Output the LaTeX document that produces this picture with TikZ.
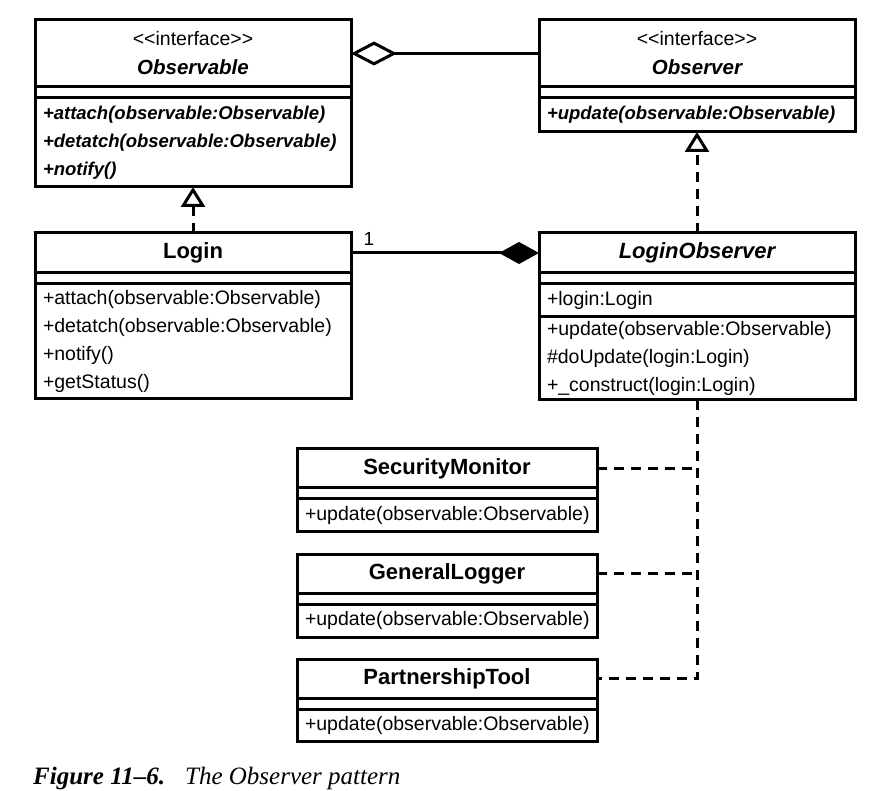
\documentclass[tikz,border=0pt]{standalone}
\usepackage{fontspec}
\setmainfont{Liberation Serif}
\newfontfamily\umlfont{Liberation Sans}[Ligatures=TeXOff]
\usetikzlibrary{arrows.meta, positioning}

\begin{document}
\begin{tikzpicture}[x=1pt, y=-1pt,
        part/.style={rectangle, draw, line width=3pt, outer sep=0pt, inner xsep=8pt, inner ysep=0pt},
        head/.style={part, align=center, font=\umlfont\bfseries\fontsize{22}{26}\selectfont},
        iface/.style={part, align=center, minimum height=67pt, font=\umlfont\fontsize{19.5}{29}\selectfont},
        gap/.style={part, minimum height=11pt},
        ops/.style={part, align=left, font=\umlfont\fontsize{19.5}{28}\selectfont},
        abstract/.style={ops, font=\umlfont\bfseries\itshape\fontsize{18.5}{28}\selectfont},
        wide/.style={text width=300pt},
        narrow/.style={text width=284pt},
        line/.style={draw, line width=3pt},
        dep/.style={line, dash pattern=on 10pt off 7pt}]
        \useasboundingbox (0,0) rectangle (884,791);

        \node [iface, wide, anchor=north] (obshead) at (193,20) {<<interface>>\\{\bfseries\itshape\fontsize{20.5}{21}\selectfont Observable}};
        \node [gap, wide, below=0pt of obshead] (obsgap) {};
        \node [abstract, wide, below=0pt of obsgap, minimum height=89pt] (obsops) {+attach(observable:Observable)\\+detatch(observable:Observable)\\+notify()};

        \node [iface, wide, anchor=north] (obvhead) at (697,20) {<<interface>>\\{\bfseries\itshape\fontsize{20.5}{21}\selectfont Observer}};
        \node [gap, wide, below=0pt of obvhead] (obvgap) {};
        \node [abstract, wide, below=0pt of obvgap, minimum height=34pt] (obvops) {+update(observable:Observable)};

        \node [head, wide, anchor=north, minimum height=40pt] (loginhead) at (193,233) {Login};
        \node [gap, wide, below=0pt of loginhead] (logingap) {};
        \node [ops, wide, below=0pt of logingap, minimum height=115pt] (loginops) {+attach(observable:Observable)\\+detatch(observable:Observable)\\+notify()\\+getStatus()};

        \node [head, wide, anchor=north, minimum height=40pt] (lobshead) at (697,233) {\itshape LoginObserver};
        \node [gap, wide, below=0pt of lobshead] (lobsgap) {};
        \node [ops, wide, below=0pt of lobsgap, minimum height=33pt] (lobsattr) {+login:Login};
        \node [ops, wide, below=0pt of lobsattr, minimum height=83pt] (lobsops) {+update(observable:Observable)\\\#doUpdate(login:Login)\\+\_construct(login:Login)};

        \node [head, narrow, anchor=north, minimum height=39pt] (smonhead) at (447,449) {SecurityMonitor};
        \node [gap, narrow, below=0pt of smonhead] (smongap) {};
        \node [ops, narrow, below=0pt of smongap, minimum height=32pt] (smonops) {+update(observable:Observable)};

        \node [head, narrow, anchor=north, minimum height=39pt] (glogrhead) at (447,554) {GeneralLogger};
        \node [gap, narrow, below=0pt of glogrhead] (glogrgap) {};
        \node [ops, narrow, below=0pt of glogrgap, minimum height=33pt] (glogrops) {+update(observable:Observable)};

        \node [head, narrow, anchor=north, minimum height=39pt] (ptoolhead) at (447,659) {PartnershipTool};
        \node [gap, narrow, below=0pt of ptoolhead] (ptoolgap) {};
        \node [ops, narrow, below=0pt of ptoolgap, minimum height=32pt] (ptoolops) {+update(observable:Observable)};

        \node [anchor=base west, inner sep=0pt, font=\fontsize{25}{28}\selectfont] (caption) at (33,784) {\textbf{\textit{Figure 11–6.}}\hspace{20pt}\textit{The Observer pattern}};

        \path [line, -{Diamond[open, length=46pt, width=24pt]}] (obvhead) -- (obshead);
        \path [line, -{Diamond[length=40pt, width=22pt]}] (loginhead) -- node[pos=0, anchor=south west, inner sep=0pt, xshift=11pt, yshift=6pt, font=\umlfont\fontsize{19}{19}\selectfont] {1} (lobshead);
        \path [dep, -{Triangle[open, length=20pt, width=24pt]}] (loginhead) -- (obsops);
        \path [dep, -{Triangle[open, length=20pt, width=24pt]}] (lobshead) -- (obvops);
        \path [dep] (lobsops) |- (ptoolhead);
        \path [dep] (smonhead) -- (smonhead -| lobsops);
        \path [dep] (glogrhead) -- (glogrhead -| lobsops);

    \end{tikzpicture}
\end{document}
